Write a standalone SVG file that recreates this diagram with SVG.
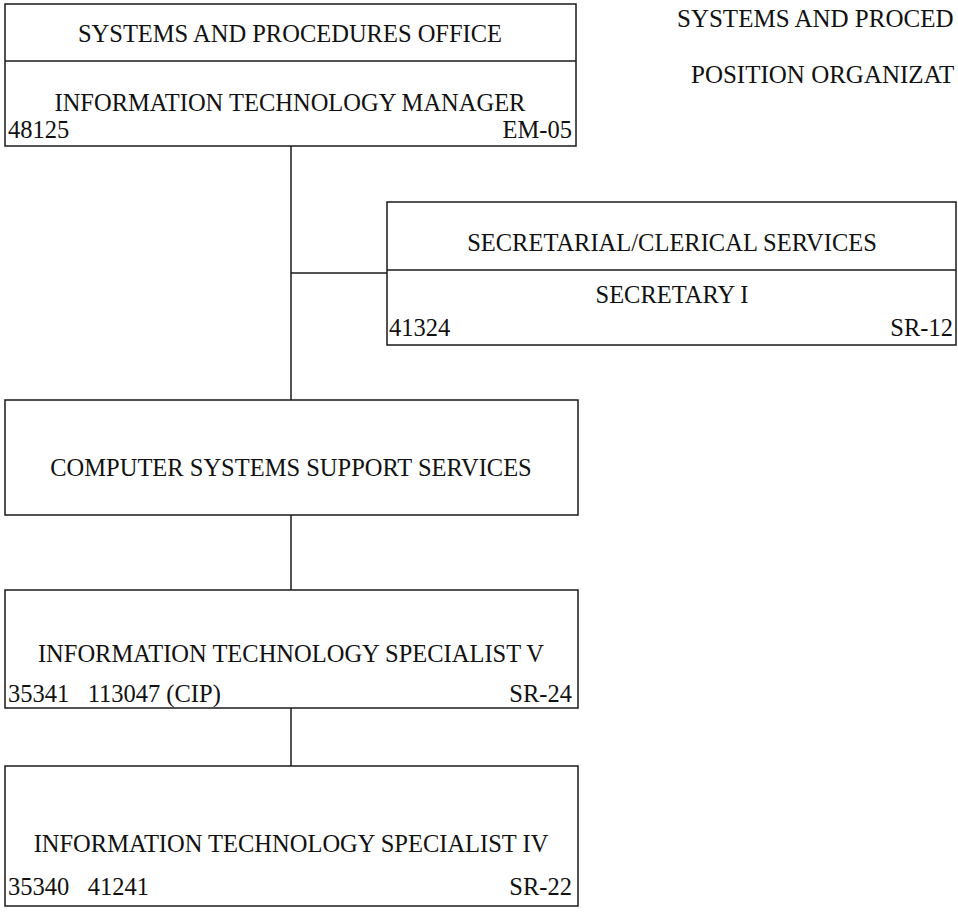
<svg xmlns="http://www.w3.org/2000/svg" width="958" height="922" viewBox="0 0 958 922">
<style>
.box{fill:#fff;stroke:#1a1a1a;stroke-width:1.5}
.ln{stroke:#1a1a1a;stroke-width:1.5;fill:none}
text{font-family:'Liberation Serif','Times New Roman',serif;font-size:24.5px;fill:#111}
.h{font-size:25px}
.c{text-anchor:middle}
.r{text-anchor:end}
</style>
<rect width="958" height="922" fill="#fff"/>
<g id="title">
<text class="h" x="677" y="27">SYSTEMS AND PROCED</text>
<text class="h" x="691" y="83">POSITION ORGANIZAT</text>
</g>
<g id="connectors">
<line class="ln" x1="291" y1="146" x2="291" y2="400"/>
<line class="ln" x1="291" y1="273" x2="387" y2="273"/>
<line class="ln" x1="291" y1="515" x2="291" y2="590"/>
<line class="ln" x1="291" y1="708" x2="291" y2="766"/>
</g>
<g id="manager">
<rect class="box" x="5" y="4" width="571" height="142"/>
<line class="ln" x1="5" y1="61" x2="576" y2="61"/>
<text class="c" x="290" y="42">SYSTEMS AND PROCEDURES OFFICE</text>
<text class="c" x="290" y="111">INFORMATION TECHNOLOGY MANAGER</text>
<text x="8" y="138">48125</text>
<text class="r" x="572" y="138">EM-05</text>
</g>
<g id="secretary">
<rect class="box" x="387" y="202" width="569" height="143"/>
<line class="ln" x1="387" y1="270" x2="956" y2="270"/>
<text class="c" x="672" y="251">SECRETARIAL/CLERICAL SERVICES</text>
<text class="c" x="672" y="303">SECRETARY I</text>
<text x="389" y="336">41324</text>
<text class="r" x="953" y="336">SR-12</text>
</g>
<g id="css">
<rect class="box" x="5" y="400" width="573" height="115"/>
<text class="c" x="291" y="476">COMPUTER SYSTEMS SUPPORT SERVICES</text>
</g>
<g id="itsv">
<rect class="box" x="5" y="590" width="573" height="118"/>
<text class="c" x="291" y="662">INFORMATION TECHNOLOGY SPECIALIST V</text>
<text x="8" y="702" xml:space="preserve">35341   113047 (CIP)</text>
<text class="r" x="572" y="702">SR-24</text>
</g>
<g id="itsiv">
<rect class="box" x="5" y="766" width="573" height="140"/>
<text class="c" x="291" y="852">INFORMATION TECHNOLOGY SPECIALIST IV</text>
<text x="8" y="895" xml:space="preserve">35340   41241</text>
<text class="r" x="572" y="895">SR-22</text>
</g>
</svg>
